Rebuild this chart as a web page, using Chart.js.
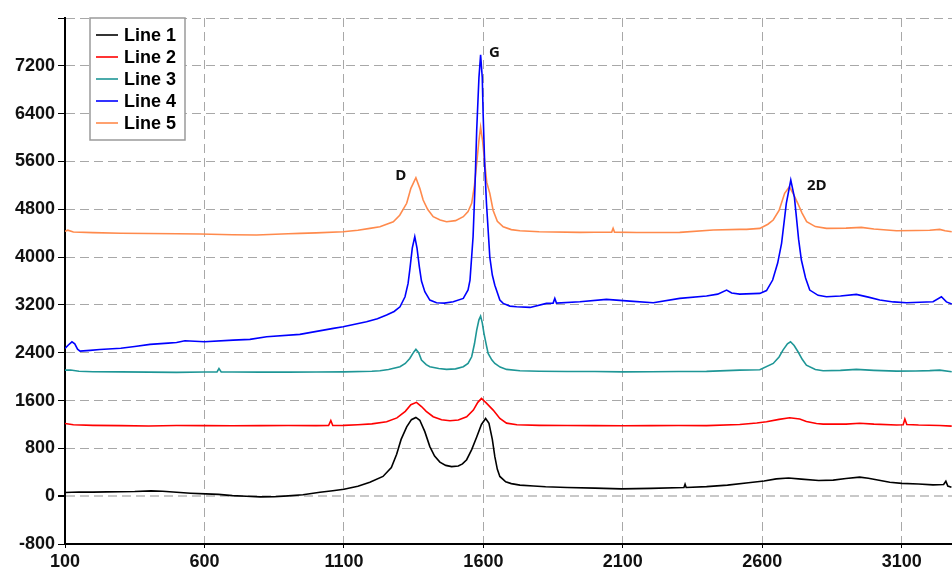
<!DOCTYPE html>
<html>
<head>
<meta charset="utf-8">
<script src="https://cdn.jsdelivr.net/npm/chart.js@4.4.1/dist/chart.umd.min.js"></script>
<style>
  html, body { margin: 0; padding: 0; background: #fff; }
  #wrap { width: 952px; height: 574px; }
</style>
</head>
<body>
<div id="wrap"><canvas id="c" width="952" height="574"></canvas></div>
<script>
// ---------- data ----------
const seriesNames = ['Line 1', 'Line 2', 'Line 3', 'Line 4', 'Line 5'];
const seriesColors = ['#000000', '#ff0000', '#1e9696', '#0000ff', '#ff8a4c'];

const xTicks = [100, 600, 1100, 1600, 2100, 2600, 3100];
const yTicks = [-800, 0, 800, 1600, 2400, 3200, 4000, 4800, 5600, 6400, 7200, 8000];

const peakLabels = ['D', 'G', '2D'];
const peakLabelX = [1304, 1640, 2795];
const peakLabelY = [5357, 7416, 5189];

const line1X = [100,150,200,250,300,350,409,450,500,550,605,650,700,750,800,850,900,953,1014,1060,1100,1150,1193,1240,1270,1289,1305,1325,1342,1358,1372,1390,1408,1425,1444,1465,1486,1510,1525,1540,1558,1576,1593,1608,1620,1632,1641,1650,1659,1680,1700,1731,1780,1823,1900,2000,2095,2200,2319,2323,2327,2400,2475,2550,2606,2650,2694,2740,2802,2854,2900,2949,2980,3057,3100,3160,3212,3250,3258,3265,3278];
const line1Y = [62,70,68,72,75,78,88,82,65,50,38,30,10,-2,-12,-10,5,25,65,90,115,165,235,330,480,700,950,1160,1280,1317,1270,1080,830,670,570,515,495,505,540,610,780,990,1200,1300,1220,950,660,450,330,240,210,185,170,158,145,135,122,130,145,200,145,160,185,225,255,290,305,285,262,268,295,318,300,232,215,205,190,195,250,170,148];

const line2X = [100,130,200,300,400,500,600,700,800,900,1000,1045,1053,1060,1100,1150,1200,1253,1290,1320,1340,1360,1378,1395,1420,1450,1480,1510,1540,1564,1580,1593,1610,1635,1659,1683,1720,1800,1900,2000,2100,2200,2300,2400,2519,2580,2615,2660,2698,2734,2758,2794,2818,2900,2949,3000,3081,3105,3111,3118,3160,3236,3279];
const line2Y = [1215,1195,1185,1180,1175,1182,1180,1178,1180,1182,1180,1182,1265,1182,1185,1195,1210,1244,1310,1420,1530,1570,1500,1420,1330,1280,1262,1275,1328,1440,1570,1635,1560,1440,1300,1222,1195,1185,1182,1180,1178,1180,1182,1180,1200,1225,1244,1285,1311,1290,1250,1216,1205,1205,1220,1205,1192,1195,1290,1200,1190,1183,1172];

const line3X = [100,120,150,200,300,400,500,600,645,652,660,700,800,900,1000,1100,1200,1229,1260,1301,1320,1336,1350,1358,1368,1378,1395,1408,1440,1468,1500,1528,1545,1558,1568,1576,1584,1590,1596,1602,1610,1617,1630,1641,1660,1683,1731,1800,1900,2000,2100,2200,2300,2400,2519,2591,2639,2660,2674,2690,2701,2714,2728,2743,2758,2790,2818,2880,2937,3000,3081,3150,3200,3236,3279];
const line3Y = [2109,2110,2090,2082,2080,2075,2072,2078,2080,2135,2080,2078,2075,2075,2078,2080,2090,2098,2120,2165,2220,2305,2410,2456,2400,2277,2200,2165,2135,2121,2130,2165,2220,2332,2550,2779,2950,3013,2900,2724,2540,2389,2280,2221,2160,2121,2098,2090,2085,2085,2080,2082,2085,2088,2109,2115,2221,2330,2444,2550,2583,2520,2416,2290,2193,2120,2098,2105,2121,2105,2092,2095,2100,2109,2081];

const line4X = [100,112,125,135,145,154,190,225,300,350,405,470,500,530,600,703,763,823,942,1062,1097,1181,1220,1253,1280,1301,1319,1330,1336,1345,1354,1362,1370,1378,1390,1408,1432,1460,1492,1528,1545,1552,1563,1570,1576,1584,1590,1596,1599,1605,1611,1617,1623,1632,1641,1659,1671,1695,1719,1767,1826,1850,1856,1862,1946,2041,2125,2209,2304,2400,2440,2472,2490,2519,2591,2615,2637,2655,2669,2686,2702,2715,2722,2730,2740,2755,2770,2800,2830,2880,2937,2980,3021,3070,3117,3212,3242,3260,3279];
const line4Y = [2472,2530,2583,2550,2460,2427,2440,2455,2475,2505,2539,2560,2570,2600,2583,2611,2623,2667,2707,2807,2834,2918,2970,3030,3090,3169,3336,3560,3783,4150,4341,4150,3850,3600,3420,3281,3236,3230,3253,3309,3450,3616,4341,5200,6127,7000,7383,7000,6406,5500,4900,4453,4000,3700,3530,3281,3225,3180,3169,3158,3225,3230,3309,3230,3253,3292,3264,3236,3309,3348,3380,3448,3400,3381,3393,3440,3616,3900,4230,4900,5290,5000,4676,4300,3951,3650,3448,3360,3336,3350,3376,3330,3281,3250,3236,3253,3336,3250,3214];

const line5X = [100,110,130,200,300,400,500,584,700,787,900,942,1000,1097,1150,1193,1229,1277,1300,1325,1340,1358,1372,1384,1400,1420,1445,1468,1500,1528,1545,1558,1568,1576,1584,1590,1597,1605,1612,1623,1635,1650,1671,1700,1731,1800,1946,2000,2060,2065,2070,2150,2304,2424,2519,2543,2591,2620,2639,2660,2680,2697,2712,2727,2742,2759,2790,2830,2900,2955,3000,3081,3150,3200,3236,3255,3279];
const line5Y = [4430,4450,4420,4410,4400,4395,4390,4386,4375,4369,4390,4397,4405,4425,4450,4481,4508,4592,4700,4900,5150,5328,5150,4955,4800,4676,4620,4592,4610,4676,4760,4900,5200,5570,5950,6172,5950,5570,5250,5067,4780,4600,4508,4460,4441,4425,4414,4415,4418,4481,4418,4412,4414,4453,4464,4464,4481,4550,4620,4780,5067,5178,5050,4900,4740,4592,4510,4481,4485,4497,4470,4441,4445,4450,4464,4440,4425];

const allX = [line1X, line2X, line3X, line4X, line5X];
const allY = [line1Y, line2Y, line3Y, line4Y, line5Y];

// ---------- chart ----------
const FONT = "'Liberation Sans', Arial, sans-serif";

const datasets = seriesNames.map((name, i) => ({
  label: name,
  data: allX[i].map((x, k) => ({ x: x, y: allY[i][k] })),
  borderColor: seriesColors[i],
  backgroundColor: seriesColors[i],
  borderWidth: 1.6,
  pointRadius: 0,
  tension: 0,
  fill: false
}));

const overlayPlugin = {
  id: 'overlay',
  afterDatasetsDraw(chart) {
    const ctx = chart.ctx;
    const xs = chart.scales.x, ys = chart.scales.y;
    ctx.save();
    ctx.setLineDash([]);
    // peak annotations
    ctx.fillStyle = '#111';
    ctx.font = "bold 15px 'Open Sans', 'Liberation Sans', sans-serif";
    ctx.textAlign = 'center';
    ctx.textBaseline = 'middle';
    peakLabels.forEach((t, i) => {
      ctx.fillText(t, xs.getPixelForValue(peakLabelX[i]), ys.getPixelForValue(peakLabelY[i]));
    });
    // legend box
    const bx = 90, by = 18, bw = 95, bh = 122;
    ctx.fillStyle = '#ffffff';
    ctx.fillRect(bx, by, bw, bh);
    ctx.strokeStyle = '#9a9a9a';
    ctx.lineWidth = 1.5;
    ctx.strokeRect(bx, by, bw, bh);
    ctx.font = "bold 18px " + FONT;
    ctx.textAlign = 'left';
    ctx.textBaseline = 'middle';
    seriesNames.forEach((name, i) => {
      const yy = 35 + i * 22;
      ctx.strokeStyle = seriesColors[i];
      ctx.lineWidth = 1.6;
      ctx.beginPath();
      ctx.moveTo(96, yy);
      ctx.lineTo(118, yy);
      ctx.stroke();
      ctx.fillStyle = '#000';
      ctx.fillText(name, 124, yy + 1);
    });
    ctx.restore();
  }
};

new Chart(document.getElementById('c'), {
  type: 'line',
  data: { datasets: datasets },
  options: {
    responsive: false,
    animation: false,
    devicePixelRatio: 1,
    layout: { padding: { top: 18, right: 0, left: 0, bottom: 0 } },
    plugins: { legend: { display: false }, tooltip: { enabled: false } },
    scales: {
      x: {
        type: 'linear',
        min: 100,
        max: 3280,
        afterBuildTicks: (s) => { s.ticks = xTicks.map(v => ({ value: v })); },
        afterFit: (s) => { s.height = 30; },
        border: { display: true, color: '#000', width: 2, dash: [9, 5] },
        grid: {
          color: '#a8a8a8',
          lineWidth: 1,
          drawTicks: true,
          tickLength: 4,
          tickColor: '#000',
          tickBorderDash: []
        },
        ticks: {
          color: '#111',
          padding: 3,
          maxRotation: 0,
          autoSkip: false,
          font: { family: FONT, size: 18, weight: 'bold' },
          callback: (v) => String(v)
        }
      },
      y: {
        type: 'linear',
        min: -800,
        max: 8000,
        afterBuildTicks: (s) => { s.ticks = yTicks.map(v => ({ value: v })); },
        afterFit: (s) => { s.width = 65; },
        border: { display: true, color: '#000', width: 2, dash: [9, 5] },
        grid: {
          color: (c) => (c.tick && c.tick.value === 0) ? '#c8c8c8' : '#a8a8a8',
          lineWidth: (c) => (c.tick && c.tick.value === 0) ? 2 : 1,
          drawTicks: true,
          tickLength: 7,
          tickColor: '#000',
          tickBorderDash: []
        },
        ticks: {
          color: '#111',
          padding: 3,
          autoSkip: false,
          font: { family: FONT, size: 18, weight: 'bold' },
          callback: (v) => (v === 8000 ? '' : String(v))
        }
      }
    }
  },
  plugins: [overlayPlugin]
});
</script>
</body>
</html>
